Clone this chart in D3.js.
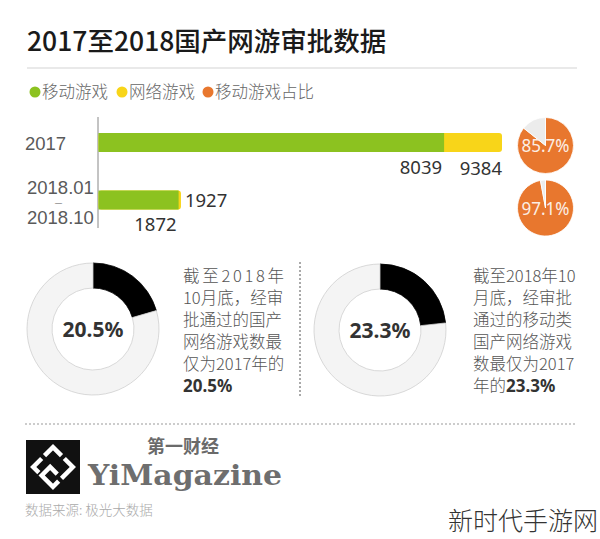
<!DOCTYPE html>
<html><head><meta charset="utf-8">
<script src="https://cdn.jsdelivr.net/npm/d3@7"></script>
<style>
html,body{margin:0;padding:0;background:#fff;}
svg{display:block;}
</style></head>
<body>
<script>
// ---- data ----
const categories = ["2017", "2018.01-2018.10"];
const mobileGames = [8039, 1872];
const totalGames = [9384, 1927];
const mobileShare = [85.7, 97.1];
const legendLabels = ["移动游戏", "网络游戏", "移动游戏占比"];
const donutValues = [20.5, 23.3];
const donutTexts = [
  ["截至2018年", "10月底，经审", "批通过的国产", "网络游戏数最", "仅为2017年的", "|20.5%"],
  ["截至2018年10", "月底，经审批", "通过的移动类", "国产网络游戏", "数最仅为2017", "年的|23.3%"]
];
const title = "2017至2018国产网游审批数据";
const source = "数据来源: 极光大数据";

// ---- style ----
const W = 600, H = 539;
const GREEN = "#8cc220", YELLOW = "#f8d519", ORANGE = "#e8772e";
const CJK = "'Noto Sans CJK SC','Noto Sans',sans-serif";

const svg = d3.select("body").append("svg").attr("width", W).attr("height", H);
svg.append("rect").attr("width", W).attr("height", H).attr("fill", "#fff");

// title
svg.append("text").attr("x", 27).attr("y", 51).text(title)
  .attr("font-family", CJK).attr("font-size", 26.5).attr("font-weight", 500).attr("fill", "#1a1a1a");
svg.append("line").attr("x1", 27).attr("x2", 577).attr("y1", 68).attr("y2", 68)
  .attr("stroke", "#e2e2e2").attr("stroke-width", 1.5);

// legend
const legendColors = [GREEN, YELLOW, ORANGE];
const legendX = [35, 122, 208];
legendLabels.forEach((l, i) => {
  svg.append("circle").attr("cx", legendX[i]).attr("cy", 92).attr("r", 5.5).attr("fill", legendColors[i]);
  svg.append("text").attr("x", legendX[i] + 7).attr("y", 98).text(l)
    .attr("font-family", CJK).attr("font-size", 16.5).attr("font-weight", 300).attr("fill", "#666");
});

// bar chart
const x = d3.scaleLinear().domain([0, d3.max(totalGames)]).range([98, 502]);
const y = d3.scalePoint().domain(categories).range([142.5, 200]);
const bh = 19;
svg.append("line").attr("x1", x(0)).attr("x2", x(0)).attr("y1", 117).attr("y2", 228)
  .attr("stroke", "#888").attr("stroke-width", 1);

categories.forEach((c, i) => {
  const yc = y(c);
  svg.append("rect").attr("x", x(0) + 0.5).attr("y", yc - bh / 2).attr("width", x(totalGames[i]) - x(0) - 0.5)
    .attr("height", bh).attr("rx", 3).attr("fill", YELLOW);
  svg.append("rect").attr("x", x(0) + 0.5).attr("y", yc - bh / 2).attr("width", x(mobileGames[i]) - x(0) - 0.5)
    .attr("height", bh).attr("fill", GREEN);
  // category label
  const parts = c.split("-");
  const lab = svg.append("text").attr("font-family", "'Liberation Sans',sans-serif").attr("font-size", 18.5)
    .attr("fill", "#5a5a5a");
  if (parts.length === 1) {
    lab.attr("x", 25).attr("y", yc + 7).text(parts[0]);
  } else {
    lab.attr("y", yc - 6.5);
    lab.append("tspan").attr("x", 27).text(parts[0]);
    lab.append("tspan").attr("x", 55).attr("dy", 11.5).attr("font-size", 7).text("—");
    lab.append("tspan").attr("x", 27).attr("dy", 18.5).text(parts[1]);
  }
});
const valStyle = g => g.attr("font-family", "'Noto Sans',sans-serif").attr("font-size", 18.5).attr("fill", "#333");
// 2017 labels
svg.append("text").call(valStyle).attr("x", x(mobileGames[0]) - 2).attr("y", y(categories[0]) + 31)
  .attr("text-anchor", "end").text(mobileGames[0]);
svg.append("text").call(valStyle).attr("x", x(totalGames[0])).attr("y", y(categories[0]) + 32)
  .attr("text-anchor", "end").text(totalGames[0]);
// 2018 labels
svg.append("text").call(valStyle).attr("x", x(totalGames[1]) + 4).attr("y", y(categories[1]) + 7)
  .text(totalGames[1]);
svg.append("text").call(valStyle).attr("x", x(mobileGames[1]) - 2).attr("y", y(categories[1]) + 31)
  .attr("text-anchor", "end").text(mobileGames[1]);

// share pies
const pie = d3.pie().sort(null).value(d => d);
const pieArc = d3.arc().innerRadius(0).outerRadius(28);
const pieY = [145.5, 208];
mobileShare.forEach((s, i) => {
  const g = svg.append("g").attr("transform", `translate(545.5,${pieY[i]})`);
  g.selectAll("path").data(pie([s, 100 - s])).join("path")
    .attr("d", pieArc).attr("fill", (d, j) => j === 0 ? ORANGE : "#ececec")
    .attr("stroke", "#fff").attr("stroke-width", 0.8);
  g.append("text").attr("y", 6.5).attr("text-anchor", "middle").text(s + "%")
    .attr("font-family", "'Noto Sans',sans-serif").attr("font-size", 18).attr("fill", "#fbeee4")
    .attr("textLength", 48).attr("lengthAdjust", "spacingAndGlyphs");
});

// donuts
const donutArc = d3.arc().innerRadius(41).outerRadius(66);
const donutCenters = [[93, 329], [380, 330]];
const textX = [183, 473];
donutValues.forEach((v, i) => {
  const [cx, cy] = donutCenters[i];
  const g = svg.append("g").attr("transform", `translate(${cx},${cy})`);
  g.selectAll("path").data(pie([v, 100 - v])).join("path")
    .attr("d", donutArc).attr("fill", (d, j) => j === 0 ? "#000" : "#f4f4f4")
    .attr("stroke", (d, j) => j === 0 ? "#000" : "#cfcfcf").attr("stroke-width", 0.8);
  g.append("text").attr("y", 7.5).attr("text-anchor", "middle").text(v + "%")
    .attr("font-family", "'Noto Sans',sans-serif").attr("font-size", 21).attr("font-weight", 700).attr("fill", "#333");
  // text block
  donutTexts[i].forEach((line, k) => {
    const t = svg.append("text").attr("x", textX[i]).attr("y", 282 + k * 22)
      .attr("font-family", CJK).attr("font-size", 16.5).attr("font-weight", 300).attr("fill", "#555");
    const [a, b] = line.split("|");
    if (a) t.append("tspan").text(a);
    if (b !== undefined) t.append("tspan").text(b).attr("font-family", "'Noto Sans',sans-serif")
      .attr("font-weight", 700).attr("fill", "#333").attr("font-size", 17);
    if (i === 0 && k === 0) t.attr("textLength", 101).attr("lengthAdjust", "spacing");
  });
});

// separators
svg.append("line").attr("x1", 300).attr("x2", 300).attr("y1", 262).attr("y2", 398)
  .attr("stroke", "#555").attr("stroke-width", 1).attr("stroke-dasharray", "2,2");
svg.append("line").attr("x1", 25).attr("x2", 577).attr("y1", 424).attr("y2", 424)
  .attr("stroke", "#999").attr("stroke-width", 1).attr("stroke-dasharray", "2,2");

// logo
const logo = svg.append("g");
logo.append("rect").attr("x", 26).attr("y", 440).attr("width", 54).attr("height", 54).attr("fill", "#111");
const lg = logo.append("g").attr("transform", "translate(53,467) rotate(45)")
  .attr("fill", "none").attr("stroke", "#fff").attr("stroke-width", 4.5);
lg.append("path").attr("d", "M-14,-2 L-14,-14 L-2,-14");
lg.append("path").attr("d", "M2,-14 L14,-14 L14,2");
lg.append("path").attr("d", "M14,6 L14,14 L-2,14 L-2,2 L8,2");
lg.append("path").attr("d", "M-14,2 L-14,14 L-6,14");
svg.append("text").attr("x", 147).attr("y", 453).text("第一财经")
  .attr("font-family", CJK).attr("font-size", 18).attr("font-weight", 700).attr("fill", "#6a6a6a");
svg.append("text").attr("x", 88).attr("y", 485).text("YiMagazine")
  .attr("font-family", "'DejaVu Serif',serif").attr("font-size", 28).attr("font-weight", 700).attr("fill", "#6e6e6e")
  .attr("textLength", 194).attr("lengthAdjust", "spacingAndGlyphs");
svg.append("text").attr("x", 25).attr("y", 515).text(source)
  .attr("font-family", CJK).attr("font-size", 13.5).attr("font-weight", 300).attr("fill", "#aaa");
svg.append("text").attr("x", 598).attr("y", 530).attr("text-anchor", "end").text("新时代手游网")
  .attr("font-family", CJK).attr("font-size", 25).attr("font-weight", 300).attr("fill", "#333");
</script>
</body></html>
